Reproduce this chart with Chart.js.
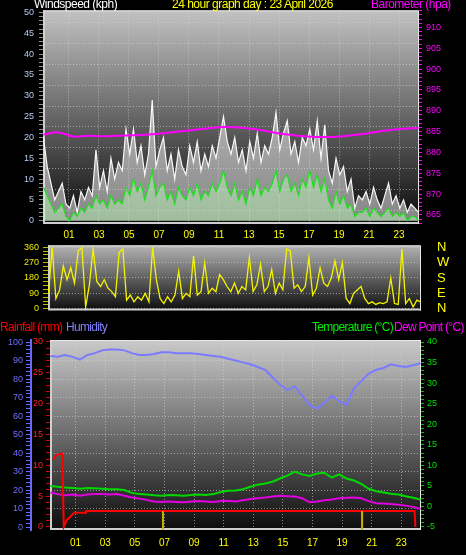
<!DOCTYPE html>
<html>
<head>
<meta charset="utf-8">
<script src="https://cdn.jsdelivr.net/npm/chart.js@4"></script>
<style>
  body { margin: 0; background: #000; }
  #wrap { position: relative; width: 466px; height: 555px; overflow: hidden; background: #000;
          font-family: "Liberation Sans", Arial, sans-serif; }
  canvas { position: absolute; left: 0; }
  .t { position: absolute; font-size: 12px; line-height: 14px; letter-spacing: -0.5px; white-space: nowrap; }
  .b { letter-spacing: -0.7px; }
</style>
</head>
<body>
<div id="wrap">
  <canvas id="windChart" width="466" height="242" style="top:0"></canvas>
  <canvas id="dirChart" width="466" height="84" style="top:236px"></canvas>
  <canvas id="climChart" width="466" height="235" style="top:320px"></canvas>
  <div class="t" style="left:34px;top:-3px;color:#fff">Windspeed (kph)</div>
  <div class="t" style="left:172px;top:-3px;color:#ffff00">24 hour graph day : 23 April 2026</div>
  <div class="t" style="left:371px;top:-3px;color:#ff00ff">Barometer (hpa)</div>
  <div class="t b" style="left:0;top:320px;color:#ff0000">Rainfall (mm)</div>
  <div class="t b" style="left:66px;top:320px;color:#8080ff">Humidity</div>
  <div class="t b" style="left:312px;top:320px;color:#00ee00">Temperature (°C)</div>
  <div class="t b" style="left:394px;top:320px;color:#ff00ff">Dew Point (°C)</div>
</div>
<script>
// hours shown on the time axis
const hourTicks = [1, 3, 5, 7, 9, 11, 13, 15, 17, 19, 21, 23];

// wind, every 15 minutes from -0.7 h
const windStart = -0.7, windStep = 0.25;
const gustSpeed = [20, 13, 9, 5, 7, 9, 4, 3, 6, 2,
  7, 5, 8, 6, 17, 8, 12, 7, 15, 10,
  14, 12, 22, 16, 22, 14, 18, 11, 16, 29,
  13, 17, 20, 12, 16, 10, 17, 13, 11, 18,
  14, 19, 12, 16, 13, 18, 15, 20, 25, 19,
  16, 20, 14, 17, 12, 19, 15, 21, 14, 18,
  16, 20, 26, 17, 21, 24, 16, 19, 14, 20,
  18, 22, 17, 24, 15, 23, 12, 9, 15, 11,
  13, 7, 10, 3, 6, 5, 7, 4, 8, 5,
  3, 6, 9, 4, 6, 3, 5, 2, 4, 3, 2];
const avgSpeed = [8, 6, 4, 2, 3, 4, 1, 0, 2, 1,
  3, 2, 4, 3, 6, 4, 5, 3, 6, 4,
  5, 4, 8, 6, 10, 7, 9, 5, 8, 12,
  6, 8, 9, 5, 7, 4, 8, 6, 5, 8,
  6, 9, 5, 7, 6, 9, 7, 9, 12, 8,
  6, 9, 5, 7, 4, 8, 6, 10, 6, 8,
  7, 9, 12, 7, 10, 11, 7, 9, 6, 10,
  8, 12, 8, 11, 7, 10, 5, 3, 7, 4,
  6, 3, 4, 1, 2, 2, 3, 1, 3, 2,
  1, 2, 3, 1, 2, 1, 2, 0, 1, 1, 0];
const windDir = [90, 360, 60, 110, 250, 170, 240, 150, 340, 360,
  10, 140, 350, 160, 130, 170, 120, 100, 70, 330,
  350, 50, 80, 40, 70, 50, 90, 40, 360, 170,
  60, 30, 70, 40, 80, 220, 60, 90, 70, 310,
  80, 100, 270, 90, 120, 100, 200, 170, 130, 100,
  150, 90, 130, 110, 300, 100, 140, 260, 100, 130,
  230, 90, 150, 110, 350, 340, 120, 140, 100, 130,
  300, 80, 120, 240, 150, 130, 180, 280, 170, 270,
  60, 30, 90, 110, 130, 60, 30, 40, 25, 35,
  30, 40, 180, 30, 25, 350, 30, 60, 10, 50, 40];

// barometer, hourly from -0.7 h
const baroStart = -0.7, baroStep = 1;
const barometer = [884.3, 884.8, 883.8, 884.0, 883.9, 884.0, 884.1, 884.3, 884.6, 885.0,
  885.4, 885.8, 886.1, 886.0, 885.6, 885.0, 884.4, 884.0, 883.7, 883.7,
  883.9, 884.3, 884.8, 885.3, 885.7, 885.8];

// humidity / temperature / dew point, every 30 minutes from -0.7 h
const climStart = -0.7, climStep = 0.5;
const humidity = [92.5, 92, 93, 92, 90.5, 93, 94, 95.5, 96, 96,
  95.5, 94, 93, 93, 93.5, 94.5, 94.5, 94, 94, 94,
  93.5, 93, 92.5, 92, 91, 90, 89, 88, 86.5, 85,
  81, 77, 74, 76, 71, 66, 64, 67, 71, 68,
  66, 75, 79, 83, 85, 86, 88, 87, 86.5, 87.5, 88.5];
const temperature = [5.0, 4.8, 4.6, 4.5, 4.3, 4.5, 4.4, 4.3, 4.2, 4.2,
  4.0, 3.3, 3.0, 2.9, 2.7, 2.6, 2.8, 2.7, 2.6, 2.8,
  2.9, 2.8, 3.0, 3.5, 3.8, 3.9, 4.2, 4.8, 5.3, 5.6,
  6.0, 6.8, 7.5, 8.5, 7.8, 7.4, 8.0, 8.2, 7.0, 7.8,
  6.8, 6.3, 5.5, 4.3, 3.7, 3.4, 3.1, 2.9, 2.5, 2.1, 1.7];
const dewPoint = [3.4, 3.0, 2.7, 2.9, 2.6, 2.9, 3.0, 3.0, 2.9, 3.0,
  2.6, 2.2, 1.9, 1.6, 1.2, 1.1, 1.2, 1.1, 1.0, 1.2,
  1.3, 1.2, 1.1, 1.3, 1.4, 1.2, 1.5, 1.8, 2.0, 2.2,
  2.4, 2.6, 2.5, 2.4, 2.0, 1.0, 1.2, 1.5, 1.7, 2.0,
  2.1, 2.2, 2.0, 1.3, 0.8, 0.7, 0.6, 0.4, 0.2, -0.1, -0.6];

// rainfall (cumulative mm)
const rainTimes = [-0.53, -0.28, 0.1, 0.2, 0.4, 0.9, 1.65, 1.7, 23.9, 23.95];
const rainfall = [10.9, 11.7, 11.9, 0, 1.1, 2.3, 2.3, 2.6, 2.6, 0];

// sunrise / sunset markers
const sunTimes = [6.9, 20.35];

const xMin = -0.73, xMax = 24.33;

const toPoints = (vals, start, step) => vals.map((v, i) => ({ x: start + i * step, y: v }));
const tickList = (from, to, step) => {
  const out = [];
  for (let v = from; v <= to + 1e-9; v += step) out.push({ value: Math.round(v * 100) / 100 });
  return out;
};
const dotted = 'rgba(215,215,215,0.6)';

Chart.defaults.font.family = '"Liberation Sans", Arial, sans-serif';
Chart.defaults.font.size = 9;

const panelBg = {
  id: 'panelBg',
  beforeDraw(chart, args, opts) {
    const { ctx, chartArea: a } = chart;
    const g = ctx.createLinearGradient(0, a.top, 0, a.bottom);
    g.addColorStop(0, opts.top);
    g.addColorStop(1, opts.bottom);
    ctx.save();
    ctx.fillStyle = g;
    ctx.fillRect(a.left, a.top, a.right - a.left, a.bottom - a.top);
    ctx.strokeStyle = '#cfcfcf';
    ctx.lineWidth = 2;
    ctx.beginPath();
    ctx.moveTo(a.left + 1, a.top);
    ctx.lineTo(a.left + 1, a.bottom - 1);
    ctx.lineTo(a.right, a.bottom - 1);
    ctx.stroke();
    ctx.lineWidth = 1;
    ctx.strokeStyle = '#e8e8e8';
    ctx.beginPath();
    ctx.moveTo(a.left, a.top + 0.5);
    ctx.lineTo(a.right - 0.5, a.top + 0.5);
    ctx.lineTo(a.right - 0.5, a.bottom);
    ctx.stroke();
    ctx.restore();
  }
};

const sunMarks = {
  id: 'sunMarks',
  afterDatasetsDraw(chart) {
    const { ctx, scales } = chart;
    ctx.save();
    ctx.strokeStyle = '#c8b400';
    ctx.lineWidth = 2;
    sunTimes.forEach(t => {
      const px = scales.x.getPixelForValue(t);
      ctx.beginPath();
      ctx.moveTo(px, scales.yRain.getPixelForValue(2.6));
      ctx.lineTo(px, chart.chartArea.bottom);
      ctx.stroke();
    });
    ctx.restore();
  }
};

const baseOpts = {
  responsive: false,
  animation: false,
  devicePixelRatio: 1,
  elements: { point: { radius: 0 }, line: { tension: 0 } },
};
const timeAxis = (show, pad) => ({
  type: 'linear', min: xMin, max: xMax, display: show,
  afterBuildTicks: s => { s.ticks = hourTicks.map(v => ({ value: v })); },
  ticks: { color: '#ffff00', font: { size: 10 }, autoSkip: false, maxRotation: 0,
           padding: pad, callback: v => String(v).padStart(2, '0') },
  grid: { color: dotted, drawTicks: false },
  border: { display: false, dash: [1, 2] },
});

// wind speed + barometer
new Chart(document.getElementById('windChart'), {
  type: 'line',
  data: {
    datasets: [
      { label: 'Barometer', data: toPoints(barometer, baroStart, baroStep), yAxisID: 'yBaro',
        borderColor: '#ff00ff', borderWidth: 2, tension: 0.4, order: 0 },
      { label: 'Average', data: toPoints(avgSpeed, windStart, windStep), yAxisID: 'y',
        borderColor: '#22dd22', borderWidth: 1.2, backgroundColor: 'rgba(190,255,190,0.45)',
        fill: 'origin', order: 1 },
      { label: 'Gust', data: toPoints(gustSpeed, windStart, windStep), yAxisID: 'y',
        borderColor: 'rgba(255,255,255,0.95)', borderWidth: 1.2, backgroundColor: 'rgba(235,235,235,0.55)',
        fill: 'origin', order: 2 },
    ]
  },
  options: {
    ...baseOpts,
    layout: { padding: { top: 10 } },
    plugins: { legend: { display: false }, tooltip: { enabled: false },
               panelBg: { top: '#c2c2c2', bottom: '#0a0a0a' } },
    scales: {
      x: { ...timeAxis(true, 5), afterFit: s => { s.height = 18; } },
      y: { position: 'left', min: -0.8, max: 50.5, weight: 1,
           afterBuildTicks: s => { s.ticks = tickList(0, 50, 1); },
           afterFit: s => { s.width = 43; },
           ticks: { color: '#b4cdee', padding: 5, autoSkip: false, callback: v => (v % 5 === 0 ? v : '') },
           grid: { drawOnChartArea: false, tickLength: 4, tickColor: '#8c8c8c' },
           border: { display: false } },
      yGrid: { position: 'left', min: -0.8, max: 50.5, weight: 0,
           afterBuildTicks: s => { s.ticks = tickList(2.5, 47.5, 5); },
           afterFit: s => { s.width = 0; },
           ticks: { display: false },
           grid: { color: dotted, drawTicks: false },
           border: { display: false, dash: [1, 2] } },
      yBaro: { position: 'right', min: 862.8, max: 914.1,
           afterBuildTicks: s => { s.ticks = tickList(863, 914, 1); },
           afterFit: s => { s.width = 47; },
           ticks: { color: '#ff00ff', padding: 4, autoSkip: false, callback: v => (v % 5 === 0 ? v : '') },
           grid: { drawOnChartArea: false, tickLength: 3, tickColor: '#ff00ff' },
           border: { display: false } },
    }
  },
  plugins: [panelBg]
});

// wind direction
const compass = { 0: 'N', 90: 'E', 180: 'S', 270: 'W', 360: 'N' };
new Chart(document.getElementById('dirChart'), {
  type: 'line',
  data: {
    datasets: [
      { label: 'Direction', data: toPoints(windDir, windStart, windStep),
        borderColor: '#f4f400', borderWidth: 1.3 }
    ]
  },
  options: {
    ...baseOpts,
    layout: { padding: { top: 8, bottom: 8 } },
    plugins: { legend: { display: false }, tooltip: { enabled: false },
               panelBg: { top: '#b4b4b4', bottom: '#0c0c0c' } },
    scales: {
      x: timeAxis(false, 0),
      y: { position: 'left', min: -11.25, max: 371.25,
           afterBuildTicks: s => { s.ticks = tickList(0, 360, 22.5); },
           afterFit: s => { s.width = 48; },
           ticks: { color: '#e8e800', padding: 4, autoSkip: false, callback: v => (v % 90 === 0 ? v : '') },
           grid: { color: c => (c.tick && c.tick.value % 90 === 0 ? dotted : 'transparent'),
                   tickLength: 5, tickColor: '#b8b800' },
           border: { display: false, dash: [1, 2] } },
      yDir: { position: 'right', min: -11.25, max: 371.25,
           afterBuildTicks: s => { s.ticks = tickList(0, 360, 90); },
           afterFit: s => { s.width = 45; },
           ticks: { color: '#ffff00', font: { size: 13 }, padding: 1, autoSkip: false, callback: v => compass[v] },
           grid: { drawOnChartArea: false, tickLength: 15, tickColor: 'transparent' },
           border: { display: false } },
    }
  },
  plugins: [panelBg]
});

// rainfall, humidity, temperature, dew point
new Chart(document.getElementById('climChart'), {
  type: 'line',
  data: {
    datasets: [
      { label: 'Rainfall', data: rainTimes.map((t, i) => ({ x: t, y: rainfall[i] })), yAxisID: 'yRain',
        borderColor: '#ff0000', borderWidth: 2, order: 0 },
      { label: 'Dew Point', data: toPoints(dewPoint, climStart, climStep), yAxisID: 'yTemp',
        borderColor: '#e000e0', borderWidth: 2, order: 1 },
      { label: 'Temperature', data: toPoints(temperature, climStart, climStep), yAxisID: 'yTemp',
        borderColor: '#00d800', borderWidth: 2, order: 2 },
      { label: 'Humidity', data: toPoints(humidity, climStart, climStep), yAxisID: 'yHum',
        borderColor: '#7b7bff', borderWidth: 2, order: 3 },
    ]
  },
  options: {
    ...baseOpts,
    layout: { padding: { top: 20 } },
    plugins: { legend: { display: false }, tooltip: { enabled: false },
               panelBg: { top: '#cacaca', bottom: '#0c0c0c' } },
    scales: {
      x: { ...timeAxis(true, 7), afterFit: s => { s.height = 25; } },
      yHum: { position: 'left', min: -1.6, max: 101.1, weight: 2,
           afterBuildTicks: s => { s.ticks = tickList(0, 100, 2); },
           afterFit: s => { s.width = 31; },
           ticks: { color: '#7070ff', padding: 3, autoSkip: false, callback: v => (v % 10 === 0 ? v : '') },
           grid: { color: c => (c.tick && c.tick.value % 10 === 0 && c.tick.value > 0 && c.tick.value < 100 ? dotted : 'transparent'),
                   tickLength: 5, tickColor: '#6a6aff' },
           border: { display: true, color: '#6a6aff', width: 2, dash: [1, 2] } },
      yRain: { position: 'left', min: -0.49, max: 30.32, weight: 1,
           afterBuildTicks: s => { s.ticks = tickList(0, 30, 1); },
           afterFit: s => { s.width = 19; },
           ticks: { color: '#ff2020', padding: 3, autoSkip: false, callback: v => (v % 5 === 0 ? v : '') },
           grid: { drawOnChartArea: false, tickLength: 4, tickColor: '#e00000' },
           border: { display: false } },
      yTemp: { position: 'right', min: -5.73, max: 40.49,
           afterBuildTicks: s => { s.ticks = tickList(-5, 40, 1); },
           afterFit: s => { s.width = 45; },
           ticks: { color: '#00e000', padding: 3, autoSkip: false, callback: v => (v % 5 === 0 ? v : '') },
           grid: { drawOnChartArea: false, tickLength: 3, tickColor: '#00c000' },
           border: { display: false } },
    }
  },
  plugins: [panelBg, sunMarks]
});
</script>
</body>
</html>
